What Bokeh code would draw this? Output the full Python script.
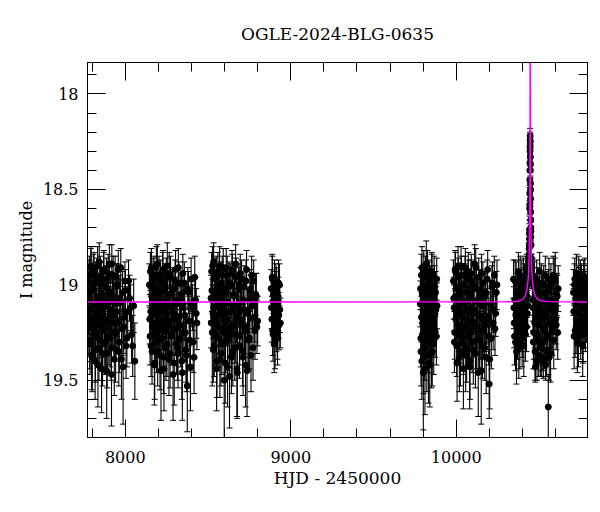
from bokeh.plotting import figure
from bokeh.models import Range1d, SingleIntervalTicker, FixedTicker, LinearAxis, ColumnDataSource
from bokeh.embed import file_html
from bokeh.resources import INLINE

TITLE = "OGLE-2024-BLG-0635"
X_LABEL = "HJD - 2450000"
Y_LABEL = "I magnitude"
Y_TICKS = [18, 18.5, 19, 19.5]
Y_TICK_LABELS = ["18", "18.5", "19", "19.5"]

# Season 1
S1_T = [7776, 7780, 7783, 7787, 7790, 7794, 7797, 7801, 7805, 7809, 7812, 7816, 7820, 7824, 7828, 7831, 7835, 7839, 7843, 7847,
        7851, 7855, 7859, 7863, 7867, 7871, 7875, 7880, 7884, 7888, 7893, 7897, 7901, 7906, 7910, 7915, 7919, 7924, 7929, 7934,
        7939, 7944, 7949, 7955, 7961, 7967, 7973, 7980, 7987, 7994, 8001, 8010, 8020, 8032, 8045, 8058]
S1_M = [19.05, 19.22, 18.95, 19.31, 19.12, 18.90, 19.18, 19.38, 19.02, 19.26, 18.93, 19.10, 19.34, 19.15, 18.97, 19.21, 19.42, 19.06, 18.88, 19.29,
        19.13, 18.99, 19.24, 19.36, 19.08, 18.92, 19.19, 19.30, 19.01, 19.45, 19.11, 18.94, 19.27, 19.16, 19.04, 19.33, 18.89, 19.20, 19.09, 19.39,
        18.96, 19.25, 19.14, 19.00, 19.35, 19.07, 18.91, 19.23, 19.43, 19.17, 19.03, 19.28, 18.98, 19.12, 19.32, 19.40]
S1_E = [0.12, 0.14, 0.10, 0.16, 0.12, 0.10, 0.13, 0.18, 0.11, 0.15, 0.10, 0.12, 0.17, 0.13, 0.11, 0.14, 0.22, 0.12, 0.10, 0.15,
        0.12, 0.11, 0.14, 0.17, 0.12, 0.10, 0.13, 0.16, 0.11, 0.25, 0.12, 0.10, 0.15, 0.13, 0.11, 0.17, 0.10, 0.14, 0.12, 0.19,
        0.11, 0.15, 0.13, 0.11, 0.18, 0.12, 0.10, 0.14, 0.30, 0.13, 0.11, 0.15, 0.11, 0.12, 0.16, 0.20]
S1B_T = [7778, 7782, 7785, 7789, 7792, 7796, 7799, 7803, 7807, 7811, 7814, 7818, 7822, 7826, 7830, 7833, 7837, 7841, 7845, 7849,
         7853, 7857, 7861, 7865, 7869, 7873, 7878, 7882, 7886, 7891, 7895, 7899, 7904, 7908, 7913, 7917, 7922, 7927, 7932, 7937,
         7942, 7947, 7952, 7958, 7964, 7970, 7977, 7984, 7991, 7998, 8005, 8015, 8026, 8038, 8051]
S1B_M = [19.14, 18.98, 19.29, 19.08, 18.91, 19.37, 19.03, 19.19, 18.94, 19.24, 19.11, 19.40, 18.99, 19.16, 19.27, 18.90, 19.07, 19.33, 19.12, 18.96,
         19.21, 19.44, 19.05, 19.17, 18.93, 19.31, 19.10, 19.23, 18.97, 19.36, 19.02, 19.18, 18.89, 19.28, 19.13, 19.47, 19.06, 18.95, 19.25, 19.15,
         19.34, 19.00, 19.20, 18.92, 19.30, 19.09, 19.39, 19.04, 19.22, 18.98, 19.32, 19.14, 19.07, 19.26, 19.11]
S1B_E = [0.12, 0.11, 0.15, 0.12, 0.10, 0.18, 0.11, 0.13, 0.10, 0.14, 0.12, 0.20, 0.11, 0.13, 0.15, 0.10, 0.12, 0.17, 0.12, 0.11,
         0.14, 0.23, 0.11, 0.13, 0.10, 0.16, 0.12, 0.14, 0.11, 0.18, 0.11, 0.13, 0.10, 0.15, 0.12, 0.27, 0.11, 0.10, 0.15, 0.13,
         0.17, 0.11, 0.14, 0.10, 0.16, 0.12, 0.21, 0.11, 0.14, 0.10, 0.17, 0.13, 0.12, 0.15, 0.14]

# Season 2
S2_T = [8146, 8150, 8154, 8158, 8162, 8166, 8170, 8174, 8178, 8182, 8186, 8190, 8194, 8198, 8202, 8206, 8210, 8214, 8218, 8222,
        8226, 8230, 8234, 8238, 8242, 8246, 8250, 8254, 8259, 8264, 8269, 8274, 8279, 8284, 8289, 8294, 8299, 8304, 8309, 8314,
        8319, 8324, 8330, 8336, 8342, 8348, 8354, 8360, 8367, 8375, 8382, 8390, 8398, 8407, 8416, 8425, 8433]
S2_M = [19.00, 19.27, 19.14, 18.91, 19.35, 19.08, 19.20, 18.95, 19.41, 19.11, 19.03, 19.30, 18.89, 19.17, 19.24, 19.06, 19.37, 18.98, 19.13, 19.28,
        18.93, 19.19, 19.44, 19.09, 19.01, 19.33, 19.15, 18.90, 19.22, 19.39, 19.05, 18.96, 19.26, 19.12, 19.47, 19.02, 19.18, 18.92, 19.31, 19.10,
        19.36, 18.99, 19.21, 19.07, 19.40, 18.94, 19.25, 19.16, 19.34, 19.53, 19.04, 19.29, 18.97, 19.12, 19.38, 19.08, 19.20]
S2_E = [0.11, 0.15, 0.12, 0.10, 0.17, 0.12, 0.13, 0.10, 0.19, 0.12, 0.11, 0.16, 0.10, 0.13, 0.14, 0.12, 0.18, 0.11, 0.12, 0.15,
        0.10, 0.13, 0.22, 0.12, 0.11, 0.17, 0.13, 0.12, 0.14, 0.19, 0.12, 0.11, 0.15, 0.12, 0.24, 0.11, 0.13, 0.10, 0.16, 0.12,
        0.18, 0.11, 0.14, 0.12, 0.20, 0.10, 0.15, 0.13, 0.17, 0.24, 0.11, 0.16, 0.11, 0.12, 0.19, 0.12, 0.14]
S2B_T = [8148, 8152, 8156, 8160, 8164, 8168, 8172, 8176, 8180, 8184, 8188, 8192, 8196, 8200, 8204, 8208, 8212, 8216, 8220, 8224,
         8228, 8232, 8236, 8240, 8244, 8248, 8252, 8256, 8261, 8266, 8271, 8276, 8281, 8286, 8291, 8296, 8301, 8306, 8311, 8316,
         8321, 8327, 8333, 8339, 8345, 8351, 8357, 8363, 8371, 8378, 8386, 8394, 8402, 8411, 8420, 8429]
S2B_M = [19.18, 18.93, 19.32, 19.06, 19.22, 18.97, 19.13, 19.42, 19.01, 19.26, 18.90, 19.16, 19.35, 19.09, 18.95, 19.29, 19.11, 19.45, 19.04, 19.20,
         18.92, 19.38, 19.14, 19.00, 19.24, 18.96, 19.31, 19.07, 19.19, 18.94, 19.36, 19.10, 19.27, 19.03, 19.15, 19.41, 18.98, 19.23, 19.08, 19.33,
         18.91, 19.17, 19.28, 19.05, 19.46, 19.12, 18.99, 19.25, 19.37, 19.02, 19.19, 19.43, 19.10, 19.30, 18.96, 19.15]
S2B_E = [0.13, 0.10, 0.16, 0.11, 0.14, 0.11, 0.12, 0.21, 0.11, 0.15, 0.10, 0.13, 0.18, 0.12, 0.10, 0.16, 0.12, 0.26, 0.11, 0.14,
         0.10, 0.19, 0.12, 0.11, 0.14, 0.10, 0.17, 0.12, 0.13, 0.11, 0.18, 0.12, 0.15, 0.11, 0.13, 0.22, 0.11, 0.14, 0.12, 0.17,
         0.10, 0.13, 0.15, 0.11, 0.25, 0.12, 0.11, 0.15, 0.19, 0.11, 0.13, 0.23, 0.12, 0.16, 0.11, 0.13]

# Season 3
S3_T = [8518, 8522, 8526, 8530, 8534, 8538, 8542, 8546, 8550, 8554, 8558, 8562, 8566, 8570, 8574, 8578, 8582, 8586, 8590, 8594,
        8598, 8602, 8606, 8610, 8614, 8618, 8622, 8627, 8632, 8637, 8642, 8647, 8652, 8657, 8662, 8667, 8672, 8677, 8682, 8687,
        8692, 8697, 8703, 8709, 8715, 8721, 8727, 8733, 8739, 8746, 8753, 8760, 8768, 8776, 8784, 8792, 8800]
S3_M = [19.07, 18.93, 19.25, 19.15, 18.88, 19.32, 19.04, 19.19, 18.96, 19.40, 19.11, 19.01, 19.28, 18.90, 19.16, 19.36, 19.06, 18.95, 19.23, 19.12,
        19.50, 19.02, 19.30, 18.91, 19.18, 19.43, 19.09, 18.99, 19.26, 19.14, 19.38, 18.94, 19.21, 19.05, 19.33, 18.89, 19.17, 19.46, 19.10, 19.00,
        19.27, 19.13, 18.97, 19.35, 19.08, 19.22, 19.42, 18.92, 19.15, 19.29, 19.03, 19.37, 19.11, 18.98, 19.24, 19.06, 19.19]
S3_E = [0.12, 0.10, 0.28, 0.13, 0.10, 0.16, 0.11, 0.13, 0.11, 0.19, 0.12, 0.11, 0.15, 0.10, 0.13, 0.17, 0.12, 0.10, 0.14, 0.12,
        0.31, 0.11, 0.16, 0.10, 0.13, 0.21, 0.12, 0.11, 0.15, 0.12, 0.19, 0.10, 0.14, 0.11, 0.17, 0.10, 0.13, 0.24, 0.12, 0.11,
        0.15, 0.12, 0.10, 0.18, 0.12, 0.14, 0.22, 0.10, 0.13, 0.16, 0.11, 0.19, 0.12, 0.11, 0.15, 0.12, 0.13]
S3B_T = [8520, 8524, 8528, 8532, 8536, 8540, 8544, 8548, 8552, 8556, 8560, 8564, 8568, 8572, 8576, 8580, 8584, 8588, 8592, 8596,
         8600, 8604, 8608, 8612, 8616, 8620, 8625, 8630, 8635, 8640, 8645, 8650, 8655, 8660, 8665, 8670, 8675, 8680, 8685, 8690,
         8695, 8700, 8706, 8712, 8718, 8724, 8730, 8736, 8743, 8750, 8757, 8764, 8772, 8780, 8788, 8796]
S3B_M = [19.20, 19.03, 18.90, 19.34, 19.12, 18.97, 19.27, 19.08, 19.44, 19.16, 18.93, 19.22, 19.05, 19.39, 19.13, 18.99, 19.31, 19.10, 18.91, 19.25,
         19.17, 19.41, 19.04, 19.19, 18.95, 19.29, 19.14, 19.48, 19.00, 19.23, 18.92, 19.35, 19.11, 19.06, 19.26, 18.96, 19.44, 19.15, 19.02, 19.32,
         18.94, 19.20, 19.09, 19.38, 19.01, 19.24, 18.98, 19.45, 19.13, 19.28, 19.07, 18.95, 19.33, 19.17, 19.05, 19.22]
S3B_E = [0.13, 0.11, 0.10, 0.17, 0.12, 0.11, 0.15, 0.12, 0.22, 0.13, 0.10, 0.14, 0.11, 0.20, 0.12, 0.11, 0.16, 0.12, 0.10, 0.15,
         0.13, 0.21, 0.11, 0.13, 0.10, 0.16, 0.12, 0.27, 0.11, 0.14, 0.10, 0.18, 0.12, 0.11, 0.15, 0.10, 0.25, 0.13, 0.11, 0.17,
         0.10, 0.14, 0.12, 0.20, 0.11, 0.14, 0.11, 0.24, 0.12, 0.16, 0.12, 0.10, 0.17, 0.13, 0.11, 0.14]

# Season 4
S4_T = [8882, 8886, 8889, 8893, 8896, 8900, 8903, 8906, 8910, 8913, 8917, 8920, 8924, 8928, 8932, 8937]
S4_M = [19.02, 19.18, 18.97, 19.26, 19.09, 19.31, 19.04, 19.14, 18.99, 19.22, 19.11, 19.28, 19.06, 19.16, 19.00, 19.20]
S4_E = [0.10, 0.12, 0.12, 0.14, 0.10, 0.15, 0.11, 0.12, 0.10, 0.13, 0.11, 0.14, 0.10, 0.12, 0.11, 0.13]
S4B_T = [8884, 8888, 8891, 8895, 8898, 8902, 8905, 8908, 8912, 8915, 8919, 8922, 8926, 8930, 8934]
S4B_M = [19.12, 18.96, 19.24, 19.05, 19.19, 18.98, 19.29, 19.08, 19.15, 19.02, 19.25, 19.10, 18.99, 19.21, 19.13]
S4B_E = [0.11, 0.12, 0.13, 0.10, 0.13, 0.11, 0.15, 0.11, 0.12, 0.11, 0.14, 0.11, 0.12, 0.13, 0.12]

# Season 5
S5_T = [9783, 9786, 9789, 9792, 9795, 9798, 9801, 9804, 9807, 9810, 9813, 9816, 9819, 9822, 9825, 9828, 9831, 9834, 9837, 9840,
        9843, 9846, 9849, 9852, 9855, 9858, 9862, 9866, 9870, 9875, 9880, 9884]
S5_M = [19.10, 19.28, 18.95, 19.40, 19.05, 19.20, 19.46, 18.92, 19.15, 19.33, 19.02, 19.24, 18.89, 19.37, 19.12, 19.07, 19.30, 18.98, 19.18, 19.42,
        19.01, 19.26, 19.13, 18.93, 19.35, 19.09, 19.21, 18.96, 19.16, 19.04, 19.27, 19.11]
S5_E = [0.12, 0.15, 0.11, 0.20, 0.11, 0.14, 0.30, 0.10, 0.12, 0.17, 0.11, 0.14, 0.12, 0.19, 0.12, 0.11, 0.16, 0.11, 0.13, 0.22,
        0.11, 0.15, 0.12, 0.10, 0.18, 0.12, 0.14, 0.11, 0.13, 0.11, 0.15, 0.12]
S5B_T = [9784, 9787, 9790, 9793, 9796, 9799, 9802, 9805, 9808, 9811, 9814, 9817, 9820, 9823, 9826, 9829, 9832, 9835, 9838, 9841,
         9844, 9847, 9850, 9853, 9856, 9860, 9864, 9868, 9872, 9877, 9882]
S5B_M = [19.02, 19.35, 19.17, 18.91, 19.26, 19.09, 19.38, 19.00, 19.21, 19.44, 18.96, 19.14, 19.30, 19.06, 18.93, 19.23, 19.41, 19.11, 18.99, 19.28,
         19.16, 19.04, 19.36, 18.94, 19.19, 19.08, 19.31, 19.01, 19.24, 19.13, 18.97]
S5B_E = [0.11, 0.18, 0.13, 0.11, 0.15, 0.12, 0.19, 0.11, 0.14, 0.24, 0.11, 0.12, 0.16, 0.11, 0.11, 0.14, 0.21, 0.12, 0.11, 0.15,
         0.13, 0.11, 0.18, 0.10, 0.13, 0.12, 0.16, 0.11, 0.14, 0.12, 0.11]

# Season 6
S6_T = [9983, 9987, 9991, 9995, 9999, 10003, 10007, 10011, 10015, 10019, 10023, 10027, 10031, 10035, 10039, 10043, 10047, 10051, 10055, 10059,
        10063, 10067, 10071, 10075, 10079, 10083, 10087, 10091, 10096, 10101, 10106, 10111, 10116, 10121, 10126, 10131, 10136, 10141, 10146, 10151,
        10156, 10161, 10166, 10172, 10178, 10184, 10190, 10196, 10202, 10209, 10216, 10223, 10230, 10238, 10246]
S6_M = [18.98, 19.12, 19.25, 18.93, 19.06, 19.32, 19.15, 18.90, 19.21, 19.38, 19.03, 19.11, 18.95, 19.28, 19.17, 19.44, 19.00, 19.23, 18.91, 19.09,
        19.34, 19.14, 18.97, 19.26, 19.05, 19.40, 19.19, 18.94, 19.30, 19.08, 19.13, 18.89, 19.36, 19.02, 19.22, 19.16, 18.96, 19.29, 19.07, 19.45,
        19.11, 18.99, 19.24, 19.33, 19.04, 19.18, 18.92, 19.27, 19.39, 19.10, 19.01, 19.20, 18.95, 19.15, 19.00]
S6_E = [0.11, 0.12, 0.14, 0.10, 0.11, 0.16, 0.13, 0.10, 0.14, 0.18, 0.11, 0.12, 0.10, 0.15, 0.13, 0.21, 0.11, 0.14, 0.10, 0.12,
        0.17, 0.13, 0.10, 0.15, 0.11, 0.20, 0.13, 0.10, 0.16, 0.12, 0.12, 0.10, 0.18, 0.11, 0.14, 0.13, 0.10, 0.15, 0.12, 0.28,
        0.12, 0.11, 0.14, 0.17, 0.11, 0.13, 0.10, 0.15, 0.26, 0.12, 0.11, 0.14, 0.10, 0.12, 0.13]
S6B_T = [9985, 9989, 9993, 9997, 10001, 10005, 10009, 10013, 10017, 10021, 10025, 10029, 10033, 10037, 10041, 10045, 10049, 10053, 10057, 10061,
         10065, 10069, 10073, 10077, 10081, 10085, 10089, 10093, 10098, 10103, 10108, 10113, 10118, 10123, 10128, 10133, 10138, 10143, 10148, 10153,
         10158, 10163, 10169, 10175, 10181, 10187, 10193, 10199, 10205, 10212, 10219, 10226, 10234, 10242]
S6B_M = [19.07, 19.30, 18.92, 19.18, 19.02, 19.41, 19.12, 18.96, 19.26, 19.06, 19.35, 18.90, 19.15, 19.22, 19.00, 19.31, 19.10, 18.95, 19.37, 19.13,
         19.04, 19.27, 18.93, 19.19, 19.43, 19.08, 18.98, 19.24, 19.14, 19.34, 19.01, 19.20, 18.91, 19.29, 19.09, 19.46, 19.16, 19.03, 19.25, 18.94,
         19.32, 19.11, 19.05, 19.21, 19.38, 18.97, 19.17, 19.52, 19.10, 19.28, 18.99, 19.13, 19.23, 19.04]
S6B_E = [0.11, 0.16, 0.10, 0.13, 0.11, 0.20, 0.12, 0.10, 0.15, 0.11, 0.18, 0.10, 0.12, 0.14, 0.11, 0.16, 0.12, 0.10, 0.19, 0.12,
         0.11, 0.15, 0.10, 0.13, 0.22, 0.12, 0.11, 0.14, 0.12, 0.18, 0.11, 0.13, 0.10, 0.15, 0.12, 0.23, 0.13, 0.11, 0.14, 0.10,
         0.17, 0.12, 0.11, 0.14, 0.19, 0.10, 0.13, 0.18, 0.12, 0.16, 0.11, 0.12, 0.14, 0.11]

# Season 7 (event season): before, around and after the peak
S7_T = [10346, 10350, 10354, 10358, 10362, 10366, 10370, 10374, 10378, 10382, 10386, 10390, 10394, 10398, 10402, 10406, 10410, 10414, 10418, 10422,
        10426, 10430, 10434, 10437,
        10439, 10440, 10441, 10442, 10443, 10443.5, 10444, 10444.5, 10445, 10445.5, 10446, 10446.3, 10446.6, 10447.4, 10447.7, 10448, 10448.5, 10449,
        10449.5, 10450, 10451, 10452, 10453, 10455, 10457,
        10460, 10464, 10468, 10472, 10476, 10480, 10484, 10488, 10492, 10496, 10500, 10504, 10508, 10512, 10516, 10520, 10524, 10528, 10532, 10536,
        10540, 10544, 10548, 10552, 10556, 10560, 10565, 10570, 10575, 10580, 10586, 10592, 10598, 10604, 10610, 10616]
S7_M = [18.97, 19.20, 19.08, 19.30, 18.99, 19.14, 19.25, 19.04, 19.33, 19.11, 18.95, 19.22, 19.06, 19.28, 19.13, 18.96, 19.19, 19.02, 19.26, 19.09,
        18.94, 19.15, 19.00, 18.98,
        18.92, 18.84, 18.85, 18.73, 18.71, 18.60, 18.58, 18.45, 18.40, 18.30, 18.24, 18.22, 18.27, 18.25, 18.33, 18.40, 18.47, 18.55,
        18.62, 18.66, 18.75, 18.79, 18.86, 18.90, 18.95,
        18.96, 19.12, 19.25, 18.98, 19.35, 19.05, 19.18, 19.40, 19.02, 19.28, 19.10, 18.93, 19.33, 19.15, 19.38, 19.07, 19.22, 19.00, 19.30, 19.13,
        19.42, 19.04, 19.26, 19.17, 19.64, 18.97, 19.20, 19.36, 19.08, 19.24, 18.95, 19.14, 18.98, 19.21, 19.06, 19.02]
S7_E = [0.10, 0.13, 0.11, 0.15, 0.11, 0.12, 0.14, 0.10, 0.16, 0.12, 0.10, 0.13, 0.11, 0.15, 0.12, 0.10, 0.13, 0.11, 0.14, 0.12,
        0.10, 0.12, 0.10, 0.10,
        0.06, 0.06, 0.05, 0.05, 0.05, 0.04, 0.05, 0.04, 0.04, 0.04, 0.04, 0.04, 0.04, 0.04, 0.04, 0.04, 0.04, 0.04,
        0.05, 0.05, 0.05, 0.05, 0.06, 0.06, 0.07,
        0.10, 0.12, 0.14, 0.10, 0.15, 0.11, 0.13, 0.10, 0.11, 0.14, 0.12, 0.10, 0.15, 0.12, 0.10, 0.11, 0.13, 0.10, 0.14, 0.12,
        0.08, 0.11, 0.14, 0.12, 0.17, 0.11, 0.13, 0.15, 0.11, 0.13, 0.10, 0.12, 0.15, 0.13, 0.11, 0.12]
S7B_T = [10348, 10352, 10356, 10360, 10364, 10368, 10372, 10376, 10380, 10384, 10388, 10392, 10396, 10400, 10404, 10408, 10412, 10416, 10420, 10424,
         10428, 10432,
         10439.5, 10440.5, 10441.5, 10442.5, 10444.2, 10445.2, 10445.8, 10448.2, 10448.8, 10450.5, 10451.5, 10454,
         10462, 10466, 10470, 10474, 10478, 10482, 10486, 10490, 10494, 10498, 10502, 10506, 10510, 10514, 10518, 10522, 10526, 10530, 10534, 10538,
         10542, 10546, 10550, 10554, 10558, 10562, 10567, 10572, 10577, 10583, 10589, 10595, 10601, 10607, 10613]
S7B_M = [19.12, 19.27, 18.98, 19.16, 19.35, 19.05, 19.21, 18.93, 19.14, 19.29, 19.03, 19.18, 18.97, 19.24, 19.08, 19.32, 19.00, 19.15, 18.95, 19.22,
         19.06, 19.11,
         18.88, 18.81, 18.79, 18.76, 18.52, 18.36, 18.28, 18.37, 18.50, 18.70, 18.72, 18.93,
         19.08, 19.30, 19.01, 19.20, 19.43, 19.10, 18.97, 19.26, 19.14, 19.37, 19.04, 19.21, 19.12, 18.99, 19.31, 19.18, 19.40, 19.06, 19.24, 18.95,
         19.16, 19.34, 19.09, 19.27, 19.03, 19.38, 19.13, 19.00, 19.22, 19.11, 19.29, 18.96, 19.18, 19.05, 19.25]
S7B_E = [0.11, 0.15, 0.11, 0.12, 0.17, 0.11, 0.13, 0.10, 0.12, 0.15, 0.11, 0.13, 0.10, 0.14, 0.11, 0.16, 0.11, 0.12, 0.10, 0.13,
         0.11, 0.11,
         0.06, 0.05, 0.05, 0.05, 0.04, 0.04, 0.04, 0.04, 0.04, 0.05, 0.05, 0.06,
         0.11, 0.14, 0.10, 0.13, 0.08, 0.12, 0.10, 0.14, 0.12, 0.11, 0.11, 0.13, 0.12, 0.10, 0.14, 0.13, 0.09, 0.11, 0.14, 0.10,
         0.12, 0.14, 0.11, 0.14, 0.11, 0.12, 0.12, 0.11, 0.14, 0.12, 0.15, 0.10, 0.13, 0.11, 0.14]

# Season 8
S8_T = [10708, 10712, 10716, 10720, 10724, 10728, 10732, 10736, 10740, 10744, 10748, 10752, 10756, 10760, 10764, 10768, 10772, 10776, 10780, 10784,
        10788, 10792]
S8_M = [19.04, 19.27, 18.97, 19.15, 19.22, 19.01, 19.30, 19.09, 18.95, 19.19, 19.06, 19.25, 18.99, 19.12, 19.32, 19.03, 19.17, 18.96, 19.21, 19.08,
        19.13, 19.00]
S8_E = [0.12, 0.17, 0.11, 0.13, 0.14, 0.11, 0.16, 0.12, 0.10, 0.13, 0.11, 0.14, 0.10, 0.12, 0.16, 0.11, 0.13, 0.10, 0.14, 0.12,
        0.12, 0.11]
S8B_T = [10710, 10714, 10718, 10722, 10726, 10730, 10734, 10738, 10742, 10746, 10750, 10754, 10758, 10762, 10766, 10770, 10774, 10778, 10782, 10786,
         10790]
S8B_M = [19.14, 19.00, 19.24, 19.07, 18.94, 19.19, 19.10, 19.28, 19.02, 19.15, 18.97, 19.22, 19.09, 19.05, 19.26, 18.98, 19.12, 19.20, 19.04, 19.17,
         19.07]
S8B_E = [0.12, 0.11, 0.14, 0.11, 0.10, 0.13, 0.12, 0.15, 0.11, 0.12, 0.10, 0.14, 0.11, 0.12, 0.15, 0.11, 0.12, 0.13, 0.11, 0.13,
         0.12]

# Microlensing model curve (magenta)
MODEL_T = [7772, 10300, 10357, 10377, 10402, 10417, 10427, 10435, 10439, 10442, 10444, 10445, 10446, 10446.5, 10447,
           10447.5, 10448, 10449, 10450, 10452, 10455, 10459, 10467, 10477, 10492, 10517, 10567, 10793]
MODEL_M = [19.090, 19.089, 19.088, 19.085, 19.076, 19.058, 19.028, 18.965, 18.89, 18.76, 18.57, 18.38, 17.97, 17.56, 17.15,
           17.56, 17.97, 18.38, 18.57, 18.76, 18.89, 18.965, 19.028, 19.058, 19.076, 19.085, 19.088, 19.090]

SEASONS = [(S1_T, S1_M, S1_E), (S1B_T, S1B_M, S1B_E), (S2_T, S2_M, S2_E), (S2B_T, S2B_M, S2B_E),
           (S3_T, S3_M, S3_E), (S3B_T, S3B_M, S3B_E), (S4_T, S4_M, S4_E), (S4B_T, S4B_M, S4B_E),
           (S5_T, S5_M, S5_E), (S5B_T, S5B_M, S5B_E), (S6_T, S6_M, S6_E), (S6B_T, S6B_M, S6B_E),
           (S7_T, S7_M, S7_E), (S7B_T, S7B_M, S7B_E), (S8_T, S8_M, S8_E), (S8B_T, S8B_M, S8B_E)]

t_all, m_all, lo_all, hi_all = [], [], [], []
for ts, ms, es in SEASONS:
    n = min(len(ts), len(ms), len(es))
    for i in range(n):
        t_all.append(ts[i])
        m_all.append(ms[i])
        lo_all.append(ms[i] + es[i])
        hi_all.append(ms[i] - es[i])

src = ColumnDataSource(dict(t=t_all, m=m_all, lo=lo_all, hi=hi_all))

FONT = "DejaVu Serif"
X0, X1 = 7772, 10793
Y0, Y1 = 19.80, 17.835

p = figure(width=592, height=504, output_backend="svg", toolbar_location=None,
           x_range=Range1d(X0, X1), y_range=Range1d(Y0, Y1),
           min_border_left=87, min_border_right=5, min_border_top=62, min_border_bottom=67,
           title=TITLE, x_axis_label=X_LABEL, y_axis_label=Y_LABEL)

p.xgrid.grid_line_color = None
p.ygrid.grid_line_color = None
p.outline_line_color = "black"
p.outline_line_width = 1
p.background_fill_color = "white"
p.border_fill_color = "white"

p.title.text_font = FONT
p.title.text_font_size = "17px"
p.title.text_font_style = "normal"
p.title.align = "center"
p.title.text_color = "black"
p.title.standoff = 38


def style_axis(ax):
    ax.axis_line_color = "black"
    ax.major_tick_line_color = "black"
    ax.minor_tick_line_color = "black"
    ax.major_tick_in = 18
    ax.major_tick_out = 0
    ax.minor_tick_in = 9
    ax.minor_tick_out = 0
    ax.major_label_text_font = FONT
    ax.major_label_text_color = "black"
    ax.axis_label_text_font = FONT
    ax.axis_label_text_font_style = "normal"
    ax.axis_label_text_color = "black"


xa = p.xaxis[0]
xa.ticker = SingleIntervalTicker(interval=1000, num_minor_ticks=5)
style_axis(xa)
xa.major_label_text_font_size = "16px"
xa.axis_label_text_font_size = "17px"
xa.major_label_standoff = 13
xa.axis_label_standoff = 2

ya = p.yaxis[0]
ya.ticker = SingleIntervalTicker(interval=0.5, num_minor_ticks=5)
style_axis(ya)
ya.major_label_text_font_size = "16px"
ya.axis_label_text_font_size = "16px"
ya.major_label_standoff = 9
ya.axis_label_standoff = 4
ya.major_label_overrides = dict(zip([float(v) for v in Y_TICKS], Y_TICK_LABELS))

# Mirror ticks on top and right (tick marks only, no labels)
X_MAJOR = [v for v in range(7000, 11001, 1000) if X0 <= v <= X1]
X_MINOR = [v for v in range(7000, 11001, 200) if X0 <= v <= X1]
Y_MAJOR = [v / 10 for v in range(175, 200, 5) if Y1 <= v / 10 <= Y0]
Y_MINOR = [v / 10 for v in range(175, 200) if Y1 <= v / 10 <= Y0]


def tick_axis(vals, length):
    ax = LinearAxis(ticker=FixedTicker(ticks=[], minor_ticks=vals))
    ax.axis_line_color = "black"
    ax.minor_tick_line_color = "black"
    ax.minor_tick_in = length
    ax.minor_tick_out = 0
    ax.major_tick_in = 0
    ax.major_tick_out = 0
    ax.major_label_standoff = 0
    ax.axis_label_standoff = 0
    return ax


p.add_layout(tick_axis(X_MAJOR, 18), "above")
p.add_layout(tick_axis(X_MINOR, 9), "above")
p.add_layout(tick_axis(Y_MAJOR, 18), "right")
p.add_layout(tick_axis(Y_MINOR, 9), "right")

ERR_COLOR = "black"
p.segment(x0="t", y0="lo", x1="t", y1="hi", source=src, line_color=ERR_COLOR, line_width=1.1)
p.scatter(x="t", y="lo", source=src, marker="dash", size=6, line_color=ERR_COLOR, line_width=1)
p.scatter(x="t", y="hi", source=src, marker="dash", size=6, line_color=ERR_COLOR, line_width=1)
p.scatter(x="t", y="m", source=src, marker="circle", size=6, fill_color="black", line_color="black")

p.line(x=MODEL_T, y=MODEL_M, line_color="#ff00ff", line_width=1.4)

open("out.html", "w").write(file_html(p, INLINE))
